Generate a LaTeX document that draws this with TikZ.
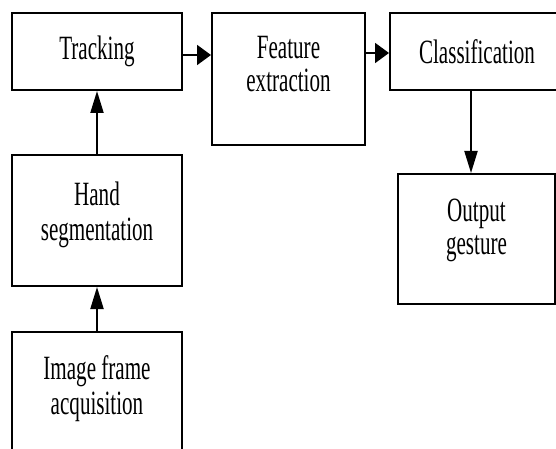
\documentclass[tikz,border=0pt]{standalone}
\usepackage{fontspec}
\setmainfont{Liberation Serif}[FakeStretch=0.62]
\usetikzlibrary{arrows.meta}
\newcommand{\uptext}[2]{\raisebox{#1}[\height][\depth]{#2}}
\begin{document}
\begin{tikzpicture}[x=1pt,y=-1pt,
  box/.style={draw=black, line width=2pt, minimum width=#1, inner sep=0pt, align=center,
              font=\fontsize{34}{35}\selectfont},
  varrow/.style={line width=2pt, -{Triangle[length=22pt,width=13pt]}},
  harrow/.style={line width=2pt, -{Triangle[length=14pt,width=20pt]}}]
\useasboundingbox (0,0) rectangle (556,449);
\clip (0,0) rectangle (556,449);
\node[box=170pt, minimum height=77pt] (tr) at (97,51.5) {Tracking};
\node[box=153pt, minimum height=132pt] (fe) at (288.5,79) {\uptext{11pt}{\begin{tabular}{@{}c@{}}Feature\\[-2pt]extraction\end{tabular}}};
\node[box=174pt, minimum height=77pt] (cl) at (477,51.5) {Classification};
\node[box=170pt, minimum height=131pt] (hs) at (97,220.5) {\uptext{5pt}{\begin{tabular}{@{}c@{}}Hand\\segmentation\end{tabular}}};
\node[box=170pt, minimum height=131pt] (im) at (97,397.5) {\uptext{8pt}{\begin{tabular}{@{}c@{}}Image frame\\acquisition\end{tabular}}};
\node[box=157pt, minimum height=130pt] (og) at (476.5,239) {\uptext{8pt}{\begin{tabular}{@{}c@{}}Output\\[-2pt]gesture\end{tabular}}};
\draw[varrow] (hs.north) -- (tr.south);
\draw[varrow] (im.north) -- (hs.south);
\draw[harrow] ([yshift=-3.5pt]tr.east) -- ([yshift=-3.5pt]tr.east -| fe.west);
\draw[harrow] ([yshift=-1.5pt]cl.west -| fe.east) -- ([yshift=-1.5pt]cl.west);
\draw[varrow] ([xshift=-5.5pt]og.north |- cl.south) -- ([xshift=-5.5pt]og.north);
\end{tikzpicture}
\end{document}
